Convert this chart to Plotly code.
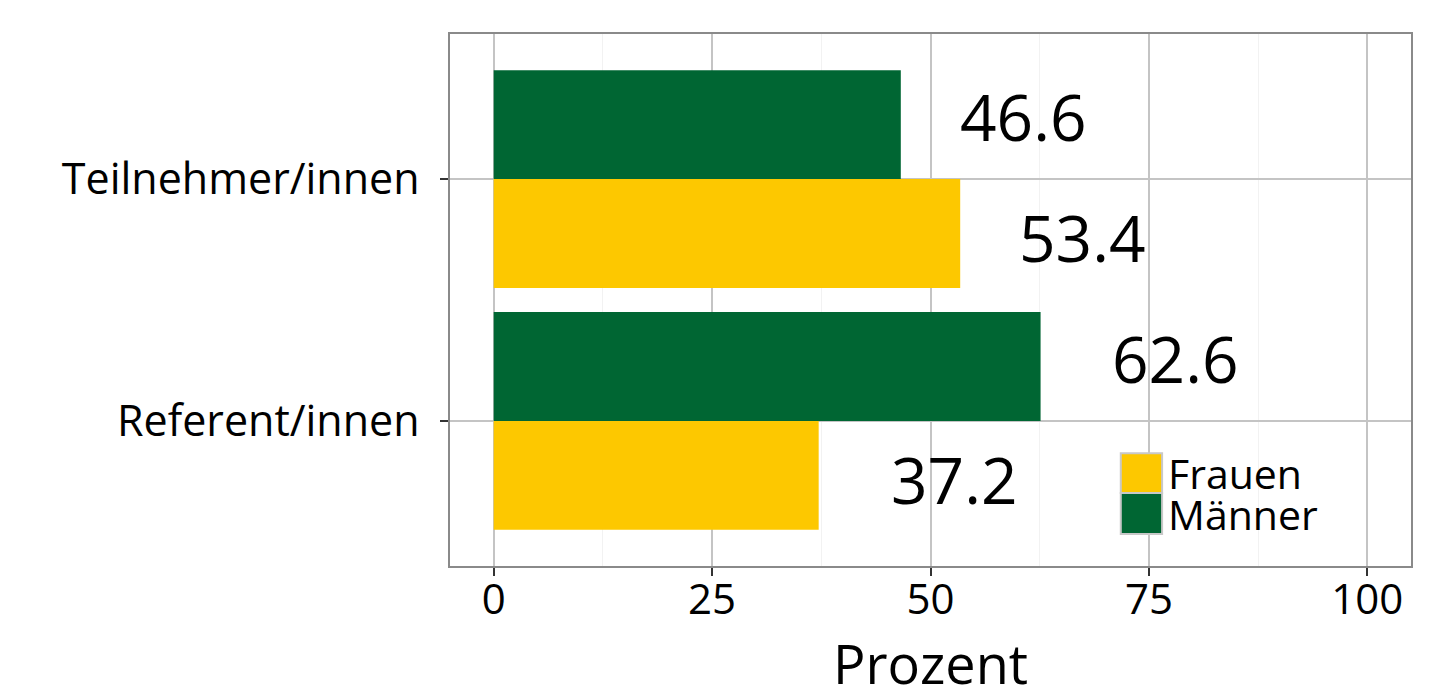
import plotly.graph_objects as go

# ---- data ----
categories = ["Referent/innen", "Teilnehmer/innen"]
frauen = [37.2, 53.4]
maenner = [62.6, 46.6]
series_names = ["Frauen", "Männer"]
x_ticks = [0, 25, 50, 75, 100]
x_minor = [12.5, 37.5, 62.5, 87.5]
label_nudge = [15.5, 14.0]  # horizontal nudge of value labels, per category

col_frauen = "#FDC800"
col_maenner = "#006633"
FONT = "Open Sans"

pos = list(range(len(categories)))
dodge = 0.25

fig = go.Figure()
fig.add_trace(go.Bar(y=pos, x=frauen, orientation="h", name=series_names[0],
                     marker=dict(color=col_frauen, line=dict(width=0)), showlegend=False))
fig.add_trace(go.Bar(y=pos, x=maenner, orientation="h", name=series_names[1],
                     marker=dict(color=col_maenner, line=dict(width=0)), showlegend=False))

annotations = []
# value labels
for vals, sgn in ((frauen, -1), (maenner, 1)):
    for p, v, n in zip(pos, vals, label_nudge):
        annotations.append(dict(x=v + n, y=p + sgn * dodge, xref="x", yref="y",
                                text=f"{v:.1f}", showarrow=False, xanchor="center", yanchor="middle",
                                yshift=2, font=dict(family=FONT, size=64, color="black")))

# manual legend (ggplot-style large keys)
key_x0, key_x1 = 0.698, 0.741
keys = [(series_names[0], col_frauen, 0.137, 0.212), (series_names[1], col_maenner, 0.060, 0.137)]
shapes = []
for name, col, y0, y1 in keys:
    shapes.append(dict(type="rect", xref="paper", yref="paper", x0=key_x0, x1=key_x1,
                       y0=y0, y1=y1, fillcolor=col, line=dict(color="#c8c8c8", width=2), layer="above"))
    annotations.append(dict(xref="paper", yref="paper", x=0.745, y=(y0 + y1) / 2, text=name,
                            showarrow=False, xanchor="left", yanchor="middle", height=42,
                            font=dict(family=FONT, size=41, color="black")))

fig.update_layout(
    width=1452, height=695,
    margin=dict(l=442, r=49, t=26, b=137),
    paper_bgcolor="white", plot_bgcolor="white",
    barmode="group", bargap=0.1, bargroupgap=0,
    font=dict(family=FONT, color="black"),
    shapes=shapes, annotations=annotations,
    xaxis=dict(range=[-5, 105], tickvals=x_ticks, ticktext=[str(t) for t in x_ticks],
               showgrid=True, gridcolor="#c4c4c4", gridwidth=2, zeroline=False,
               minor=dict(tickvals=x_minor, showgrid=True, gridcolor="#f2f2f2", gridwidth=1, ticks=""),
               ticks="outside", ticklen=8, tickwidth=2, tickcolor="#333333",
               tickfont=dict(family=FONT, size=42, color="black"),
               ticklabelstandoff=-12,
               showline=True, linecolor="#8a8a8a", linewidth=1.5, mirror=True,
               title=dict(text="Prozent", font=dict(family=FONT, size=54, color="black"), standoff=20)),
    yaxis=dict(range=[-0.6, 1.6], tickvals=pos, ticktext=categories,
               showgrid=True, gridcolor="#c4c4c4", gridwidth=2, zeroline=False,
               ticks="outside", ticklen=8, tickwidth=2, tickcolor="#333333",
               tickfont=dict(family=FONT, size=43, color="black"),
               ticklabelstandoff=12,
               showline=True, linecolor="#8a8a8a", linewidth=1.5, mirror=True),
)

fig.write_html("out.html")
